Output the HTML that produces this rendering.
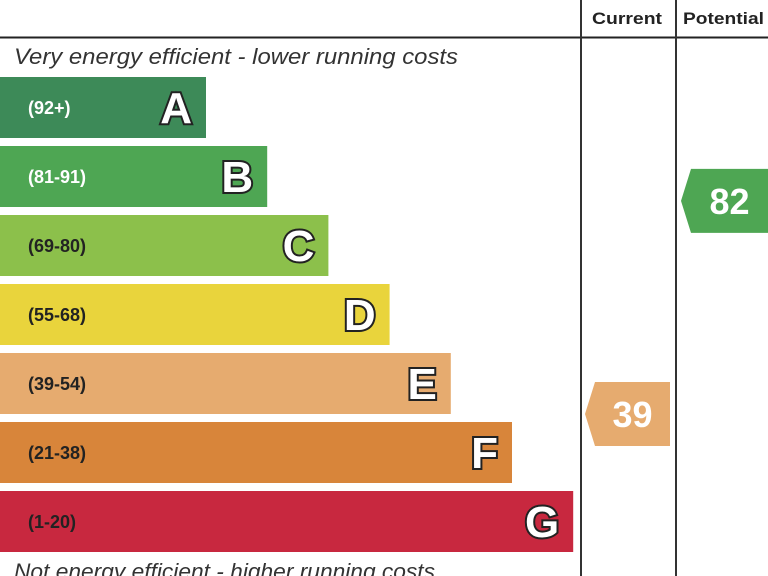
<!DOCTYPE html>
<html><head><meta charset="utf-8"><style>
html,body{margin:0;padding:0;background:#fff;width:768px;height:576px;overflow:hidden}
svg{display:block;font-family:"Liberation Sans",Arial,sans-serif}
</style></head><body>
<svg id="c" width="768" height="576" viewBox="0 0 768 576">
<line x1="0" y1="37.5" x2="768" y2="37.5" stroke="#222" stroke-width="2"/>
<line x1="581" y1="0" x2="581" y2="576" stroke="#333" stroke-width="2"/>
<line x1="676" y1="0" x2="676" y2="576" stroke="#333" stroke-width="2"/>
<text x="592" y="24" textLength="70" lengthAdjust="spacingAndGlyphs" font-size="17" font-weight="bold" fill="#222">Current</text>
<text x="683" y="24" textLength="81" lengthAdjust="spacingAndGlyphs" font-size="17" font-weight="bold" fill="#222">Potential</text>
<text x="14" y="64" textLength="444" lengthAdjust="spacingAndGlyphs" font-size="22" font-style="italic" fill="#333">Very energy efficient - lower running costs</text>
<text x="14" y="579" textLength="421" lengthAdjust="spacingAndGlyphs" font-size="22" font-style="italic" fill="#333">Not energy efficient - higher running costs</text>
<g id="bars"></g>
<g id="arrows"></g>
</svg>
<script>
const bandLetters=["A","B","C","D","E","F","G"];
const bandRanges=["(92+)","(81-91)","(69-80)","(55-68)","(39-54)","(21-38)","(1-20)"];
const bandMins=[92,81,69,55,39,21,1];
const bandColors=["#3d8a58","#4ea653","#8cc04b","#e9d43c","#e6ab6f","#d8853a","#c8283f"];
const currentValue=39;
const potentialValue=82;
const NS="http://www.w3.org/2000/svg";
const bars=document.getElementById('bars'),arrows=document.getElementById('arrows');
function bandY(i){return 77+i*69;}
function bandW(i){return 206+i*61.2;}
function bandOf(v){for(let i=0;i<bandMins.length;i++){if(v>=bandMins[i])return i;}return 6;}
function mk(t,a){const e=document.createElementNS(NS,t);for(const k in a)e.setAttribute(k,a[k]);return e;}
bandLetters.forEach((L,i)=>{
  const y=bandY(i),w=bandW(i);
  const r=mk('rect',{x:0,y:y,width:w,height:61,fill:bandColors[i]});
  
  
  bars.appendChild(r);
  const t=mk('text',{x:28,y:y+37,'font-size':18,'font-weight':'bold',fill:(i<2?'#fff':'#222')});
  t.textContent=bandRanges[i];
  
  
  bars.appendChild(t);
  const l=mk('text',{x:w-14,y:y+46,'font-size':44,'font-weight':'bold','text-anchor':'end',fill:'#fff',stroke:'#222','stroke-width':4,'paint-order':'stroke'});
  l.textContent=L;
  
  
  bars.appendChild(l);
});
function drawArrow(v,x0,x1,yc,name){
  const i=bandOf(v);const h=64,tip=10;
  const p=mk('polygon',{points:`${x0},${yc} ${x0+tip},${yc-h/2} ${x1},${yc-h/2} ${x1},${yc+h/2} ${x0+tip},${yc+h/2}`,fill:bandColors[i]});
  
  
  arrows.appendChild(p);
  const t=mk('text',{x:(x0+tip+x1)/2,y:yc+13,'font-size':36,'font-weight':'bold','text-anchor':'middle',fill:'#fff'});
  t.textContent=v;
  
  
  arrows.appendChild(t);
}
function valueY(v){const i=bandOf(v);const top=i===0?100:bandMins[i-1]-1;const lo=bandMins[i];const f=(top-v)/Math.max(1,top-lo);return bandY(i)+f*61;}
drawArrow(currentValue,585,670,valueY(currentValue),'current');
drawArrow(potentialValue,681,768,valueY(potentialValue),'potential');
</script>
</body></html>
